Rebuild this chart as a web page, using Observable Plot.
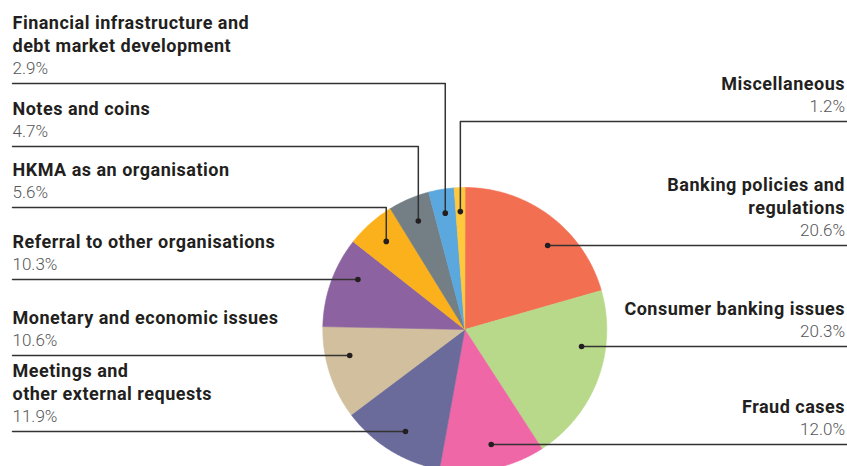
<!DOCTYPE html>
<html><head><meta charset="utf-8">
<script src="https://cdn.jsdelivr.net/npm/d3@7"></script>
<script src="https://cdn.jsdelivr.net/npm/@observablehq/plot@0.6"></script>
<style>
html,body{margin:0;padding:0;background:#fff;overflow:hidden}
svg{display:block;overflow:hidden}
</style>
</head><body><div id="chart"></div>
<script>
// ---- data ----
const categories = [
  "Banking policies and\nregulations",
  "Consumer banking issues",
  "Fraud cases",
  "Meetings and\nother external requests",
  "Monetary and economic issues",
  "Referral to other organisations",
  "HKMA as an organisation",
  "Notes and coins",
  "Financial infrastructure and\ndebt market development",
  "Miscellaneous"
];
const shares = [20.6, 20.3, 12.0, 11.9, 10.6, 10.3, 5.6, 4.7, 2.9, 1.2];
const shareLabels = ["20.6%", "20.3%", "12.0%", "11.9%", "10.6%", "10.3%", "5.6%", "4.7%", "2.9%", "1.2%"];
const colors = ["#F26F52", "#B8D98A", "#EF67A7", "#6A6B9B", "#D2BF9D", "#8C63A0", "#FBB11B", "#737E85", "#5AA8DE", "#FFC83D"];

// ---- layout ----
const W = 847, H = 466;
const CX = 464.3, CY = 329, R = 142, RDOT = 118;
const side = ["right", "right", "right", "left", "left", "left", "left", "left", "left", "right"];
const leaderY = [245, 346, 444, 431, 355, 279, 207, 146, 83, 121];
const elbow = [false, false, false, false, false, false, true, true, true, true];
const LEFT_X = 12, RIGHT_X = 844.5;
const NAME_SIZE = 18, PCT_SIZE = 17;

const arcs = d3.pie().sort(null).value(d => d)(shares);

// slice polygons
const slicePts = [];
arcs.forEach((a, i) => {
  slicePts.push({k: i, x: CX, y: CY, c: colors[i]});
  const n = Math.max(2, Math.ceil((a.endAngle - a.startAngle) / 0.01));
  for (let j = 0; j <= n; j++) {
    const t = a.startAngle + (a.endAngle - a.startAngle) * j / n;
    slicePts.push({k: i, x: CX + R * Math.sin(t), y: CY - R * Math.cos(t), c: colors[i]});
  }
});

// dots & leaders
const dots = [], leaderPts = [];
arcs.forEach((a, i) => {
  let dx, dy;
  if (elbow[i]) {
    const m = (a.startAngle + a.endAngle) / 2;
    dx = CX + RDOT * Math.sin(m); dy = CY - RDOT * Math.cos(m);
  } else {
    const ry = leaderY[i] - CY;
    const rx = Math.sqrt(RDOT * RDOT - ry * ry) * (side[i] === "right" ? 1 : -1);
    dx = CX + rx; dy = leaderY[i];
  }
  dots.push({x: dx, y: dy});
  const edge = side[i] === "right" ? W : LEFT_X;
  leaderPts.push({k: i, x: dx, y: dy});
  if (elbow[i]) leaderPts.push({k: i, x: dx, y: leaderY[i]});
  leaderPts.push({k: i, x: edge, y: leaderY[i]});
});

const labels = categories.map((c, i) => ({
  name: c, pct: shareLabels[i], side: side[i],
  x: side[i] === "right" ? RIGHT_X : LEFT_X,
  yName: leaderY[i] - 31.5, yPct: leaderY[i] - 9.5
}));
const L = labels.filter(d => d.side === "left");
const Rt = labels.filter(d => d.side === "right");

const nameOpts = {fontSize: NAME_SIZE, fontWeight: 700, fill: "#231F20", lineAnchor: "bottom", lineHeight: 22.7 / NAME_SIZE};
const pctOpts = {fontSize: PCT_SIZE, fontWeight: 300, fill: "#555658", lineAnchor: "bottom"};

const chart = Plot.plot({
  width: W, height: H, margin: 0,
  x: {domain: [0, W], range: [0, W], axis: null},
  y: {domain: [0, H], range: [0, H], axis: null},
  style: {fontFamily: "Roboto, sans-serif", background: "#fff"},
  marks: [
    Plot.line(slicePts, {x: "x", y: "y", z: "k", fill: d => d.c, stroke: d => d.c, strokeWidth: 0.6, curve: "linear-closed"}),
    Plot.line(leaderPts, {x: "x", y: "y", z: "k", stroke: "#333", strokeWidth: 1.5}),
    Plot.dot(dots, {x: "x", y: "y", r: 2.8, fill: "#231F20", stroke: "none"}),
    Plot.text(L, {x: "x", y: "yName", text: "name", textAnchor: "start", ...nameOpts}),
    Plot.text(L, {x: "x", y: "yPct", text: "pct", textAnchor: "start", ...pctOpts}),
    Plot.text(Rt, {x: "x", y: "yName", text: "name", textAnchor: "end", ...nameOpts}),
    Plot.text(Rt, {x: "x", y: "yPct", text: "pct", textAnchor: "end", ...pctOpts})
  ]
});
d3.select(chart).selectAll("g[font-weight='700']").attr("letter-spacing", "0.5px");
document.getElementById("chart").append(chart);
</script>
</body></html>
